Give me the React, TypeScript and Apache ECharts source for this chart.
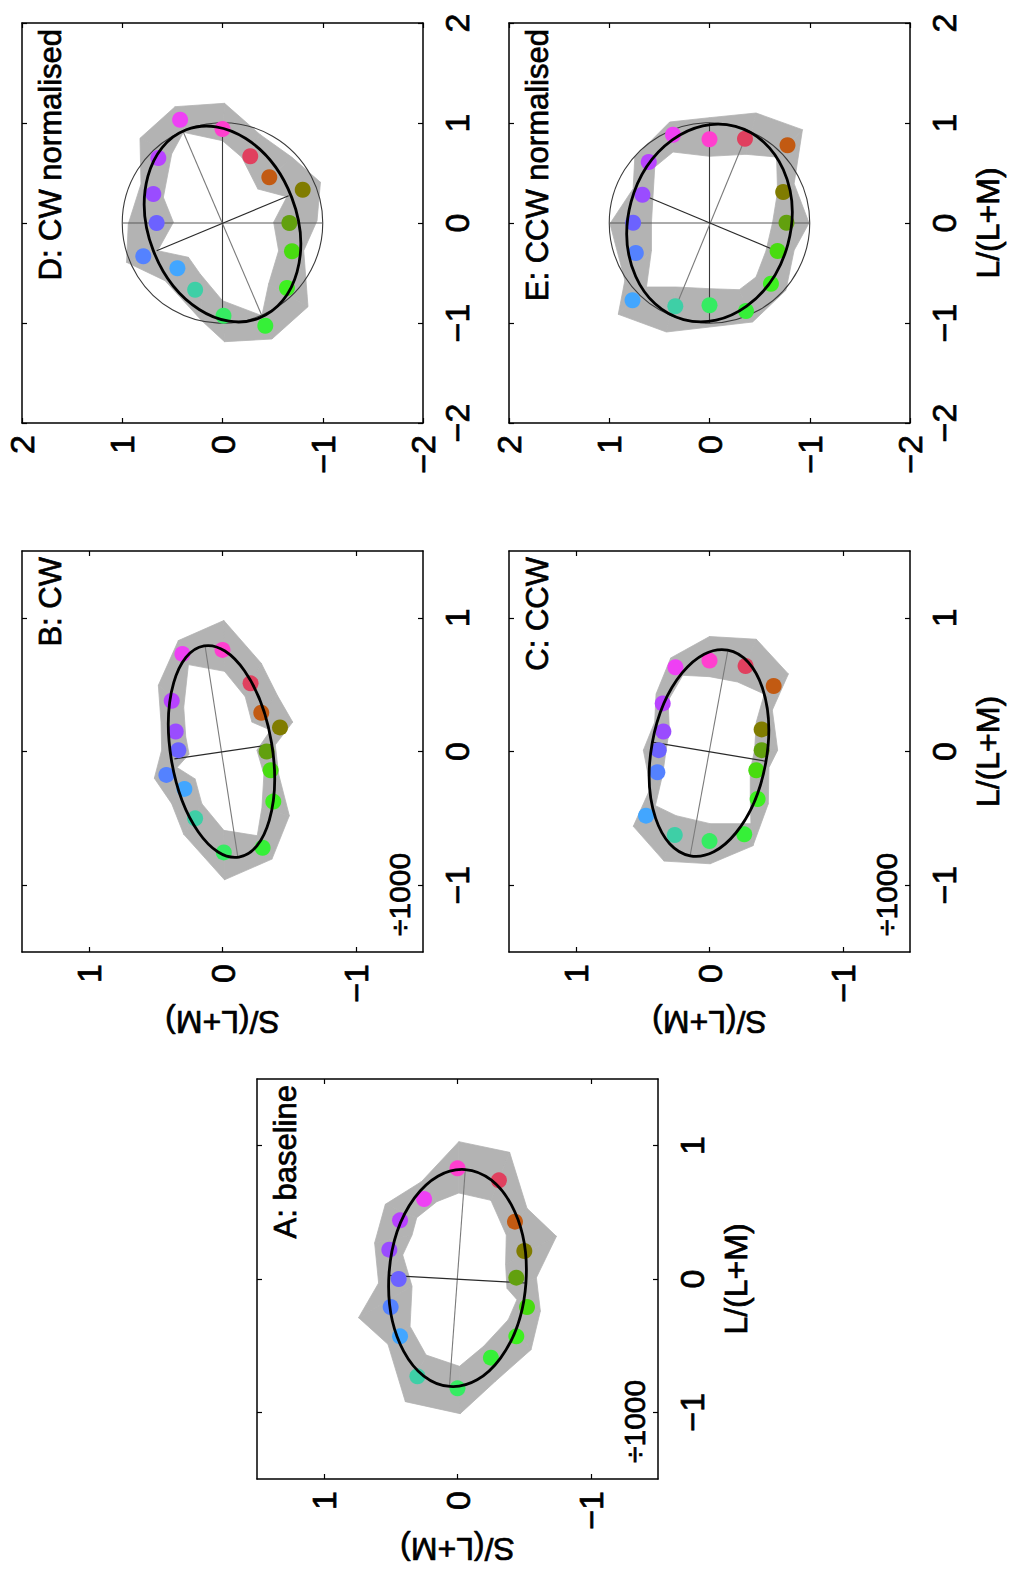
import React, { useEffect, useRef } from 'react';
import * as echarts from 'echarts';

// Every point is [L/(L+M), S/(L+M)] (x1000 units); 16 hues in order.
const hueColors = ['#ff3fcf', '#e0405f', '#c25a12', '#807c00', '#62a00e', '#48dc10', '#3ef020', '#36f038', '#36ec62', '#3ecfa6', '#42a6ff', '#5482ff', '#6c62ff', '#9a4cff', '#b842ff', '#ee40f4'];

const ticksSmall = [-1, 0, 1];
const ticksLarge = [-2, -1, 0, 1, 2];

// Panel A: baseline
const aDots = [[0.83, 0.0], [0.74, -0.31], [0.43, -0.43], [0.21, -0.5], [0.01, -0.44], [-0.21, -0.52], [-0.43, -0.44], [-0.59, -0.25], [-0.82, 0.0], [-0.73, 0.3], [-0.43, 0.43], [-0.21, 0.5], [0.0, 0.44], [0.22, 0.51], [0.44, 0.43], [0.6, 0.25]];
const aOuter = [[1.03, -0.01], [0.95, -0.39], [0.53, -0.52], [0.32, -0.74], [0.01, -0.59], [-0.24, -0.62], [-0.53, -0.55], [-0.77, -0.28], [-1.01, -0.02], [-0.92, 0.39], [-0.49, 0.52], [-0.29, 0.74], [-0.03, 0.59], [0.27, 0.62], [0.56, 0.54], [0.73, 0.27]];
const aInner = [[0.645, -0.01], [0.59, -0.25], [0.33, -0.365], [0.11, -0.36], [-0.07, -0.37], [-0.155, -0.445], [-0.305, -0.38], [-0.505, -0.195], [-0.655, -0.015], [-0.57, 0.235], [-0.355, 0.355], [-0.055, 0.34], [0.18, 0.41], [0.33, 0.34], [0.46, 0.305], [0.58, 0.155]];
const aEllipse = [0.0075, 0.0, 0.815, 0.513, -4.0]; // centre L, centre S, semi-major, semi-minor, tilt (deg)
const aGreyAxis = [[0.8125, -0.0575], [-0.805, 0.06]];
const aDarkAxis = [[0.0275, 0.5175], [-0.03, -0.5075]];

// Panel B: CW
const bDots = [[0.76, 0.0], [0.51, -0.21], [0.29, -0.29], [0.18, -0.43], [0.0, -0.33], [-0.14, -0.36], [-0.375, -0.38], [-0.72, -0.3], [-0.755, -0.01], [-0.5, 0.205], [-0.28, 0.285], [-0.175, 0.42], [0.01, 0.33], [0.15, 0.35], [0.38, 0.38], [0.73, 0.3]];
const bOuter = [[0.98, -0.01], [0.66, -0.29], [0.42, -0.41], [0.22, -0.525], [0.05, -0.395], [-0.17, -0.42], [-0.48, -0.5], [-0.805, -0.37], [-0.96, -0.015], [-0.62, 0.29], [-0.39, 0.38], [-0.2, 0.51], [0.01, 0.455], [0.22, 0.46], [0.495, 0.48], [0.83, 0.33]];
const bInner = [[0.6, -0.015], [0.41, -0.17], [0.22, -0.22], [0.16, -0.36], [0.01, -0.2575], [-0.17, -0.31], [-0.42, -0.295], [-0.63, -0.26], [-0.59, -0.01], [-0.39, 0.155], [-0.205, 0.205], [-0.12, 0.34], [-0.02, 0.25], [0.11, 0.275], [0.33, 0.29], [0.65, 0.255]];
const bEllipse = [0.0, 0.0075, 0.8, 0.38, 9.4];
const bGreyAxis = [[0.7875, 0.13], [-0.7925, -0.115]];
const bDarkAxis = [[-0.055, 0.36], [0.0525, -0.37]];

// Panel C: CCW
const cDots = [[0.68, 0.0], [0.64, -0.27], [0.49, -0.48], [0.165, -0.39], [0.01, -0.39], [-0.14, -0.35], [-0.355, -0.36], [-0.62, -0.26], [-0.67, 0.0], [-0.625, 0.26], [-0.48, 0.475], [-0.155, 0.39], [0.01, 0.38], [0.15, 0.345], [0.36, 0.35], [0.63, 0.255]];
const cOuter = [[0.86, 0.0], [0.84, -0.35], [0.58, -0.59], [0.31, -0.47], [0.01, -0.51], [-0.12, -0.445], [-0.39, -0.44], [-0.705, -0.325], [-0.84, -0.005], [-0.82, 0.34], [-0.56, 0.57], [-0.27, 0.44], [0.01, 0.495], [0.22, 0.41], [0.43, 0.4], [0.7, 0.29]];
const cInner = [[0.56, 0.0], [0.52, -0.21], [0.43, -0.41], [0.22, -0.35], [0.01, -0.3375], [-0.14, -0.305], [-0.355, -0.305], [-0.54, -0.31], [-0.54, -0.005], [-0.48, 0.25], [-0.405, 0.405], [-0.17, 0.35], [0.01, 0.325], [0.16, 0.3], [0.38, 0.31], [0.57, 0.2]];
const cEllipse = [-0.011, 0.004, 0.782, 0.431, -10.3];
const cGreyAxis = [[0.7575, -0.1375], [-0.78, 0.145]];
const cDarkAxis = [[0.07, 0.43], [-0.0725, -0.42]];

// Panel D: CW normalised
const dDots = [[0.94, 0.0], [0.667, -0.277], [0.457, -0.467], [0.333, -0.8], [0.0, -0.667], [-0.283, -0.693], [-0.65, -0.643], [-1.027, -0.427], [-0.927, -0.01], [-0.667, 0.273], [-0.453, 0.45], [-0.333, 0.79], [0.0, 0.657], [0.29, 0.69], [0.65, 0.64], [1.033, 0.423]];
const dOuter = [[1.197, -0.02], [0.883, -0.377], [0.657, -0.693], [0.407, -0.977], [0.023, -0.943], [-0.277, -0.81], [-0.837, -0.853], [-1.16, -0.493], [-1.187, -0.02], [-0.977, 0.207], [-0.577, 0.573], [-0.393, 0.957], [-0.01, 0.94], [0.39, 0.813], [0.847, 0.823], [1.163, 0.473]];
const dInner = [[0.823, 0.0], [0.657, -0.193], [0.34, -0.353], [0.263, -0.643], [0.007, -0.51], [-0.277, -0.56], [-0.61, -0.46], [-0.927, -0.393], [-0.777, 0.0], [-0.51, 0.223], [-0.343, 0.34], [-0.277, 0.647], [0.007, 0.49], [0.257, 0.59], [0.69, 0.507], [0.907, 0.39]];
const dEllipse = [-0.01, 0.0, 1.01, 0.74, 21];
const dGreyAxis = [[0.907, 0.39], [-0.927, -0.393]];
const dDarkAxis = [[-0.277, 0.657], [0.273, -0.66]];

// Panel E: CCW normalised
const eDots = [[0.837, 0.0], [0.843, -0.354], [0.777, -0.778], [0.31, -0.735], [0.003, -0.768], [-0.28, -0.679], [-0.607, -0.613], [-0.88, -0.364], [-0.823, 0.0], [-0.833, 0.341], [-0.773, 0.768], [-0.3, 0.735], [0.003, 0.762], [0.283, 0.669], [0.61, 0.606], [0.883, 0.364]];
const eOuter = [[1.053, 0.0], [1.1, -0.464], [0.933, -0.927], [0.393, -0.844], [0.0, -0.993], [-0.273, -0.844], [-0.673, -0.762], [-0.99, -0.43], [-1.04, 0.0], [-1.09, 0.43], [-0.913, 0.91], [-0.573, 0.844], [-0.007, 0.993], [0.343, 0.762], [0.66, 0.745], [1.01, 0.397]];
const eInner = [[0.667, 0.0], [0.687, -0.364], [0.66, -0.669], [0.31, -0.679], [0.003, -0.629], [-0.28, -0.563], [-0.54, -0.464], [-0.667, -0.298], [-0.657, 0.0], [-0.64, 0.331], [-0.64, 0.629], [-0.273, 0.579], [0.003, 0.579], [0.277, 0.563], [0.56, 0.546], [0.71, 0.364]];
const eEllipse = [0.0, 0.0, 1.0, 0.81, -15];
const eGreyAxis = [[0.867, -0.364], [-0.907, 0.364]];
const eDarkAxis = [[0.293, 0.695], [-0.29, -0.695]];

const unitCross = [[[0, 1], [0, -1]], [[1, 0], [-1, 0]]]; // [L,S] segments for normalised panels

const FONT = 'Liberation Sans';
const TB = { textBorderColor: '#000', textBorderWidth: 0.7 };

const panels = [
  { rect: { left: 257, top: 1079, width: 401, height: 400 }, range: 1.5, ticks: ticksSmall, dots: aDots, outer: aOuter, inner: aInner, ell: aEllipse, grey: aGreyAxis, dark: aDarkAxis, title: 'A: baseline', div: true, sName: true, lName: true, circle: false },
  { rect: { left: 22, top: 551, width: 401, height: 401 }, range: 1.5, ticks: ticksSmall, dots: bDots, outer: bOuter, inner: bInner, ell: bEllipse, grey: bGreyAxis, dark: bDarkAxis, title: 'B: CW', div: true, sName: true, lName: false, circle: false },
  { rect: { left: 509, top: 551, width: 401, height: 401 }, range: 1.5, ticks: ticksSmall, dots: cDots, outer: cOuter, inner: cInner, ell: cEllipse, grey: cGreyAxis, dark: cDarkAxis, title: 'C: CCW', div: true, sName: true, lName: true, circle: false },
  { rect: { left: 22, top: 23, width: 401, height: 400 }, range: 2, ticks: ticksLarge, dots: dDots, outer: dOuter, inner: dInner, ell: dEllipse, grey: dGreyAxis, dark: dDarkAxis, title: 'D: CW normalised', div: false, sName: false, lName: false, circle: true },
  { rect: { left: 509, top: 23, width: 401, height: 400 }, range: 2, ticks: ticksLarge, dots: eDots, outer: eOuter, inner: eInner, ell: eEllipse, grey: eGreyAxis, dark: eDarkAxis, title: 'E: CCW normalised', div: false, sName: false, lName: true, circle: true },
];

const fmt = (v: number) => (v < 0 ? '\u2212' + Math.abs(v) : String(v));

function buildOption() {
  const grid: any[] = [];
  const xAxis: any[] = [];
  const yAxis: any[] = [];
  const series: any[] = [];
  const graphic: any[] = [];

  panels.forEach((p, gi) => {
    grid.push({ ...p.rect, containLabel: false, outerBoundsMode: 'none', show: false });
    const frame = { show: true, onZero: false, lineStyle: { color: '#000', width: 1.5 } };
    const tick = { show: true, inside: true, length: 5, customValues: p.ticks, lineStyle: { color: '#000', width: 1.2 } };
    const lab = { show: true, rotate: 90, customValues: p.ticks, formatter: fmt, fontSize: 34, color: '#000', fontFamily: FONT, showMinLabel: true, showMaxLabel: true, ...TB };
    // S axis (horizontal, inverted) bottom + mirror top
    xAxis.push({
      gridIndex: gi, type: 'value', position: 'bottom', inverse: true, min: -p.range, max: p.range,
      axisLine: frame, axisTick: tick, axisLabel: { ...lab, margin: 12 }, splitLine: { show: false },
      name: p.sName ? 'S/(L+M)' : '', nameLocation: 'middle', nameGap: 54, nameRotate: 180, nameMoveOverlap: false,
      nameTextStyle: { fontSize: 32, color: '#000', fontFamily: FONT, ...TB },
    });
    xAxis.push({
      gridIndex: gi, type: 'value', position: 'top', inverse: true, min: -p.range, max: p.range,
      axisLine: frame, axisTick: tick, axisLabel: { show: false }, splitLine: { show: false },
    });
    // L axis (vertical) right + mirror left
    yAxis.push({
      gridIndex: gi, type: 'value', position: 'right', min: -p.range, max: p.range,
      axisLine: frame, axisTick: tick, axisLabel: { ...lab, margin: 17 }, splitLine: { show: false },
      name: p.lName ? 'L/(L+M)' : '', nameLocation: 'middle', nameGap: 62, nameRotate: 90, nameMoveOverlap: false,
      nameTextStyle: { fontSize: 32, color: '#000', fontFamily: FONT, ...TB },
    });
    yAxis.push({
      gridIndex: gi, type: 'value', position: 'left', min: -p.range, max: p.range,
      axisLine: frame, axisTick: tick, axisLabel: { show: false }, splitLine: { show: false },
    });
    const xi = gi * 2;
    const yi = gi * 2;
    const n = p.outer.length;

    // grey band, one quad per neighbouring pair
    const bandData = p.outer.map((o, i) => {
      const j = (i + 1) % n;
      const o2 = p.outer[j];
      const in2 = p.inner[j];
      const in1 = p.inner[i];
      return [o[1], o[0], o2[1], o2[0], in2[1], in2[0], in1[1], in1[0]];
    });
    series.push({
      type: 'custom', xAxisIndex: xi, yAxisIndex: yi, z: 1, silent: true, clip: false,
      data: bandData,
      renderItem: (params: any, api: any) => {
        const pts = [0, 1, 2, 3].map((k) => api.coord([api.value(2 * k), api.value(2 * k + 1)]));
        return { type: 'polygon', shape: { points: pts }, style: { fill: '#b3b3b3', stroke: '#b3b3b3', lineWidth: 0.8 } };
      },
    });

    if (p.circle) {
      series.push({
        type: 'custom', xAxisIndex: xi, yAxisIndex: yi, z: 2, silent: true, clip: false,
        data: [[0, 0, 1]],
        renderItem: (params: any, api: any) => {
          const c = api.coord([api.value(0), api.value(1)]);
          const e = api.coord([api.value(0) + api.value(2), api.value(1)]);
          const r = Math.hypot(e[0] - c[0], e[1] - c[1]);
          return { type: 'circle', shape: { cx: c[0], cy: c[1], r }, style: { fill: 'none', stroke: '#3a3a3a', lineWidth: 1.1 } };
        },
      });
      unitCross.forEach((seg, k) => {
        series.push({
          type: 'line', xAxisIndex: xi, yAxisIndex: yi, z: 2, silent: true, symbol: 'none',
          data: seg.map((q) => [q[1], q[0]]),
          lineStyle: { color: k === 0 ? '#5a5a5a' : '#3a3a3a', width: 1.1 },
        });
      });
    }

    series.push({
      type: 'line', xAxisIndex: xi, yAxisIndex: yi, z: 3, silent: true, symbol: 'none',
      data: p.grey.map((q) => [q[1], q[0]]), lineStyle: { color: '#7a7a7a', width: 1.1 },
    });
    series.push({
      type: 'line', xAxisIndex: xi, yAxisIndex: yi, z: 3, silent: true, symbol: 'none',
      data: p.dark.map((q) => [q[1], q[0]]), lineStyle: { color: '#2a2a2a', width: 1.1 },
    });

    series.push({
      type: 'scatter', xAxisIndex: xi, yAxisIndex: yi, z: 4, silent: true, symbol: 'circle', symbolSize: 16,
      data: p.dots.map((d, i) => ({ value: [d[1], d[0]], itemStyle: { color: hueColors[i], opacity: 1 } })),
    });

    series.push({
      type: 'custom', xAxisIndex: xi, yAxisIndex: yi, z: 5, silent: true, clip: false,
      data: [[p.ell[1], p.ell[0], p.ell[2], p.ell[3], p.ell[4]]],
      renderItem: (params: any, api: any) => {
        const cS = api.value(0), cL = api.value(1), a = api.value(2), b = api.value(3);
        const th = (api.value(4) * Math.PI) / 180;
        const c = api.coord([cS, cL]);
        const pa = api.coord([cS + a * Math.sin(th), cL + a * Math.cos(th)]);
        const pb = api.coord([cS + b * Math.cos(th), cL - b * Math.sin(th)]);
        const rx = Math.hypot(pa[0] - c[0], pa[1] - c[1]);
        const ry = Math.hypot(pb[0] - c[0], pb[1] - c[1]);
        const rot = Math.atan2(-(pa[1] - c[1]), pa[0] - c[0]);
        return { type: 'ellipse', x: c[0], y: c[1], rotation: rot, shape: { cx: 0, cy: 0, rx, ry }, style: { fill: 'none', stroke: '#000', lineWidth: 2.8 } };
      },
    });

    const r = p.rect;
    graphic.push({
      type: 'text', x: r.left + 28, y: r.top + 6, rotation: Math.PI / 2, silent: true,
      style: { text: p.title, fontSize: 31, fontFamily: FONT, fill: '#000', stroke: '#000', lineWidth: 0.7, align: 'right', verticalAlign: 'middle' },
    });
    if (p.div) {
      graphic.push({
        type: 'text', x: r.left + r.width - 23.5, y: r.top + r.height - 16, rotation: Math.PI / 2, silent: true,
        style: { text: '\u00f71000', fontSize: 30, fontFamily: FONT, fill: '#000', stroke: '#000', lineWidth: 0.7, align: 'left', verticalAlign: 'middle' },
      });
    }
  });

  return { animation: false, backgroundColor: '#fff', grid, xAxis, yAxis, series, graphic };
}

export default function App() {
  const ref = useRef<HTMLDivElement>(null);
  useEffect(() => {
    const chart = echarts.init(ref.current as HTMLDivElement, null, { renderer: 'svg' });
    chart.setOption(buildOption() as any);
    return () => chart.dispose();
  }, []);
  return <div ref={ref} style={{ position: 'absolute', left: 0, top: 0, width: 1010, height: 1570, background: '#fff' }} />;
}
